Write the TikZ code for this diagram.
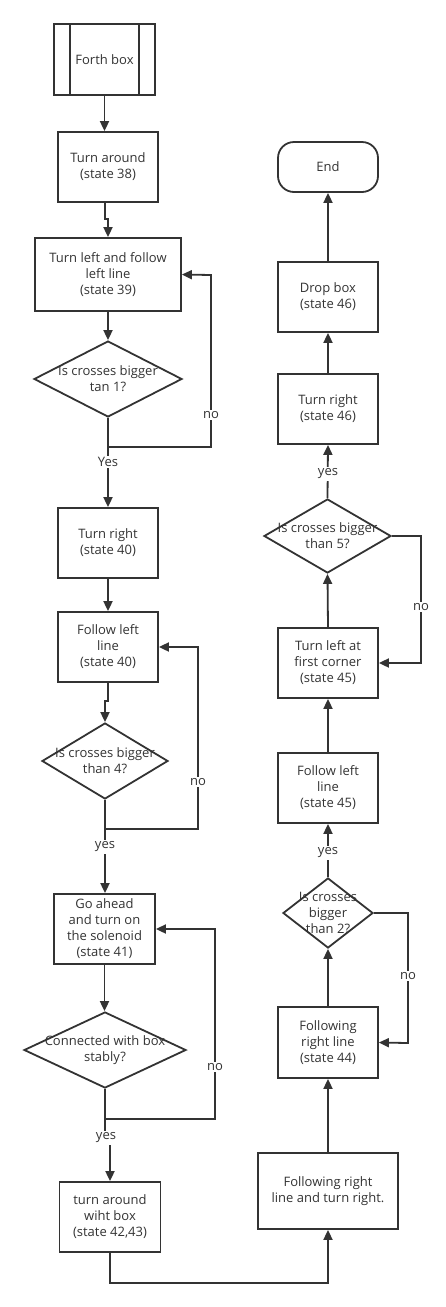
\documentclass[tikz,border=0pt]{standalone}
\usepackage{fontspec}
\setmainfont{Open Sans}
\usetikzlibrary{shapes.geometric,arrows.meta}
\definecolor{ink}{HTML}{333333}
\tikzset{
  box/.style={draw=ink, line width=1.8pt, rectangle, inner sep=0pt, align=center, text=ink, font=\fontsize{13}{16}\selectfont},
  dia/.style={draw=ink, line width=1.8pt, diamond, inner sep=0pt},
  txt/.style={align=center, text=ink, inner sep=0pt, font=\fontsize{13}{16}\selectfont},
  lbl/.style={fill=white, text=ink, inner sep=1.5pt, font=\fontsize{13}{14}\selectfont},
  arr/.style={draw=ink, line width=1.8pt, -{Triangle[length=10pt,width=9pt]}},
  ln/.style={draw=ink, line width=1.8pt}
}
\begin{document}
\begin{tikzpicture}[x=1pt,y=-1pt]
\useasboundingbox (0,0) rectangle (446,1307);
% left column
\node[box, minimum width=101pt, minimum height=71pt] (forth) at (104.5,59.5) {Forth box};
\draw[ln] ([xshift=17pt]forth.north west) -- ([xshift=17pt]forth.south west);
\draw[ln] ([xshift=-17pt]forth.north east) -- ([xshift=-17pt]forth.south east);
\node[box, minimum width=100pt, minimum height=70pt] (ta) at (108,167) {Turn around\\(state 38)};
\node[box, minimum width=146pt, minimum height=73pt] (tl) at (108,274.5) {Turn left and follow\\left line\\(state 39)};
\node[dia, minimum width=148pt, minimum height=76pt] (d1) at (108,379) {};
\node[txt] (d1t) at (d1) {Is crosses bigger\\tan 1?};
\node[box, minimum width=100pt, minimum height=70pt] (tr) at (108,543) {Turn right\\(state 40)};
\node[box, minimum width=100pt, minimum height=70pt] (fl) at (108,647) {Follow left\\line\\(state 40)};
\node[dia, minimum width=126pt, minimum height=76pt] (d2) at (105,761) {};
\node[txt] (d2t) at (d2) {Is crosses bigger\\than 4?};
\node[box, minimum width=101pt, minimum height=70pt] (go) at (104.5,929) {Go ahead\\and turn on\\the solenoid\\(state 41)};
\node[dia, minimum width=162pt, minimum height=76pt] (d3) at (105,1050) {};
\node[txt] (d3t) at (d3) {Connected with box\\stably?};
\node[box, minimum width=101pt, minimum height=70pt] (ww) at (110,1217) {turn around\\wiht box\\(state 42,43)};
% right column
\node[box, minimum width=140pt, minimum height=76pt] (frt) at (328,1191) {Following right\\line and turn right.};
\node[box, minimum width=100pt, minimum height=71pt] (frl) at (328,1042.5) {Following\\right line\\(state 44)};
\node[dia, minimum width=90pt, minimum height=70pt] (d4) at (328,913) {};
\node[txt] (d4t) at (d4) {Is crosses\\bigger\\than 2?};
\node[box, minimum width=100pt, minimum height=70pt] (fll) at (328,788) {Follow left\\line\\(state 45)};
\node[box, minimum width=100pt, minimum height=70pt] (tlc) at (328,663) {Turn left at\\first corner\\(state 45)};
\node[dia, minimum width=127pt, minimum height=74pt] (d5) at (327.5,536) {};
\node[txt] (d5t) at (d5) {Is crosses bigger\\than 5?};
\node[box, minimum width=100pt, minimum height=70pt] (trr) at (328,409) {Turn right\\(state 46)};
\node[box, minimum width=100pt, minimum height=70pt] (drop) at (328,297) {Drop box\\(state 46)};
\node[box, minimum width=100pt, minimum height=50pt, rounded corners=16pt] (end) at (328,167) {End};
% connectors left
\draw[arr] (forth.south) -- (forth.south |- ta.north);
\draw[arr] ([xshift=-3pt]ta.south) -- ++(0,16) -| (tl.north);
\draw[arr] (tl.south) -- (d1.north);
\draw[arr] (d1.south) -- (tr.north);
\coordinate (j1) at (108,447);
\draw[arr] (j1) -| (211,275) -- (tl.east);
\node[lbl] (no1) at (211,415) {no};
\node[lbl] (yes1) at (108,462) {Yes};
\draw[arr] (tr.south) -- (fl.north);
\draw[arr] (fl.south) -- ++(0,18) -| (d2.north);
\draw[arr] (d2.south) -- (d2.south |- go.north);
\coordinate (j2) at (105,829);
\draw[arr] (j2) -| (198,647) -- (fl.east);
\node[lbl] (no2) at (198,782) {no};
\node[lbl] (yes2) at (105,847) {yes};
\draw[arr] (go.south) -- (go.south |- d3.north);
\draw[arr] (d3.south) -- ++(0,50) -| (ww.north);
\coordinate (j3) at (105,1119);
\draw[arr] (j3) -| (215,929) -- (go.east);
\node[lbl] (no3) at (215,1067) {no};
\node[lbl] (yes3) at (106,1138) {yes};
\draw[arr] (ww.south) -- ++(0,30) -| (frt.south);
% connectors right
\draw[arr] (frt.north) -- (frl.south);
\draw[arr] (frl.north) -- (d4.south);
\draw[arr] (d4.east) -| (408,1043) -- (frl.east);
\node[lbl] (no4) at (408,976) {no};
\draw[arr] (d4.north) -- (fll.south);
\node[lbl] (yes4) at (328,853) {yes};
\draw[arr] (fll.north) -- (tlc.south);
\draw[arr] (tlc.north) -- (d5.south);
\draw[arr] (d5.east) -| (421,663) -- (tlc.east);
\node[lbl] (no5) at (421,607) {no};
\draw[arr] (d5.north) -- (trr.south);
\node[lbl] (yes5) at (328,474) {yes};
\draw[arr] (trr.north) -- (drop.south);
\draw[arr] (drop.north) -- (end.south);
\end{tikzpicture}
\end{document}
